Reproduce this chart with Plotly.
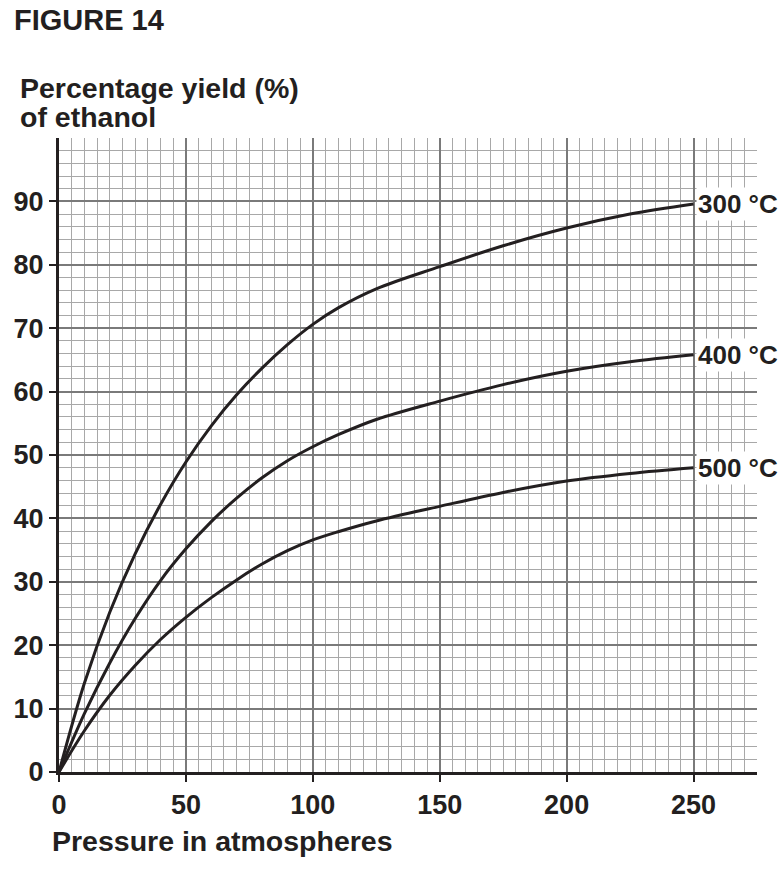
import plotly.graph_objects as go

# Data
pressure = [0, 10, 20, 30, 40, 50, 60, 70, 80, 90, 100, 110, 125, 150, 175, 200, 225, 250]
yield_300 = [0, 14.0, 25.2, 34.4, 42.2, 48.9, 54.6, 59.5, 63.7, 67.4, 70.6, 73.2, 76.2, 79.7, 83.0, 85.8, 88.0, 89.6]
yield_400 = [0, 9.2, 17.2, 24.2, 30.2, 35.2, 39.5, 43.2, 46.4, 49.1, 51.3, 53.2, 55.6, 58.5, 61.1, 63.2, 64.7, 65.8]
yield_500 = [0, 6.5, 12.1, 16.8, 20.9, 24.4, 27.5, 30.3, 32.8, 34.9, 36.6, 37.9, 39.6, 41.9, 44.1, 45.9, 47.1, 48.0]
series_labels = ["300 °C", "400 °C", "500 °C"]

x_ticks = [0, 50, 100, 150, 200, 250]
y_ticks = [0, 10, 20, 30, 40, 50, 60, 70, 80, 90]

FONT = "Liberation Sans, Arial, sans-serif"
INK = "#231f20"

fig = go.Figure()
for ys, name in zip([yield_300, yield_400, yield_500], series_labels):
    fig.add_trace(go.Scatter(
        x=pressure, y=ys, mode="lines", name=name,
        line=dict(color=INK, width=3, shape="spline", smoothing=1.0),
        showlegend=False, hoverinfo="skip"))
    fig.add_annotation(
        x=pressure[-1], y=ys[-1], xref="x", yref="y", text="<b>%s</b>" % name,
        showarrow=False, xanchor="left", yanchor="middle", xshift=2,
        bgcolor="white", borderpad=1,
        font=dict(family=FONT, size=26, color=INK))

fig.update_layout(
    width=784, height=891,
    margin=dict(l=59, r=27, t=138, b=119),
    paper_bgcolor="white", plot_bgcolor="white",
    font=dict(family=FONT, color=INK),
    xaxis=dict(
        range=[0, 275], tickmode="array", tickvals=x_ticks,
        ticktext=["<b>%d</b>" % v for v in x_ticks],
        tickfont=dict(family=FONT, size=27, color=INK),
        ticks="outside", ticklen=7, tickwidth=2, tickcolor=INK,
        showline=True, linecolor=INK, linewidth=3,
        showgrid=True, gridcolor="#7a7a7a", gridwidth=1.5,
        minor=dict(dtick=5, tick0=0, showgrid=True, gridcolor="#a8a8a8", gridwidth=1.3, ticks=""),
        zeroline=False, fixedrange=True),
    yaxis=dict(
        range=[0, 100], tickmode="array", tickvals=y_ticks,
        ticktext=["<b>%d</b>" % v for v in y_ticks],
        tickfont=dict(family=FONT, size=27, color=INK),
        ticks="outside", ticklen=7, tickwidth=2, tickcolor=INK,
        showline=True, linecolor=INK, linewidth=3,
        showgrid=True, gridcolor="#7a7a7a", gridwidth=1.5,
        minor=dict(dtick=2, tick0=0, showgrid=True, gridcolor="#a8a8a8", gridwidth=1.3, ticks=""),
        zeroline=False, fixedrange=True),
)

fig.add_annotation(text="<b>FIGURE 14</b>", xref="paper", yref="paper",
                   x=-0.067, y=1.186, xanchor="left", yanchor="middle", showarrow=False,
                   font=dict(family=FONT, size=29, color=INK))
fig.add_annotation(text="<b>Percentage yield (%)</b>", xref="paper", yref="paper",
                   x=-0.0587, y=1.079, xanchor="left", yanchor="middle", showarrow=False,
                   font=dict(family=FONT, size=28.5, color=INK))
fig.add_annotation(text="<b>of ethanol</b>", xref="paper", yref="paper",
                   x=-0.0587, y=1.033, xanchor="left", yanchor="middle", showarrow=False,
                   font=dict(family=FONT, size=28.5, color=INK))
fig.add_annotation(text="<b>Pressure in atmospheres</b>", xref="paper", yref="paper",
                   x=-0.0129, y=-0.109, xanchor="left", yanchor="middle", showarrow=False,
                   font=dict(family=FONT, size=28.5, color=INK))

fig.write_html("out.html", config={"displayModeBar": False})
